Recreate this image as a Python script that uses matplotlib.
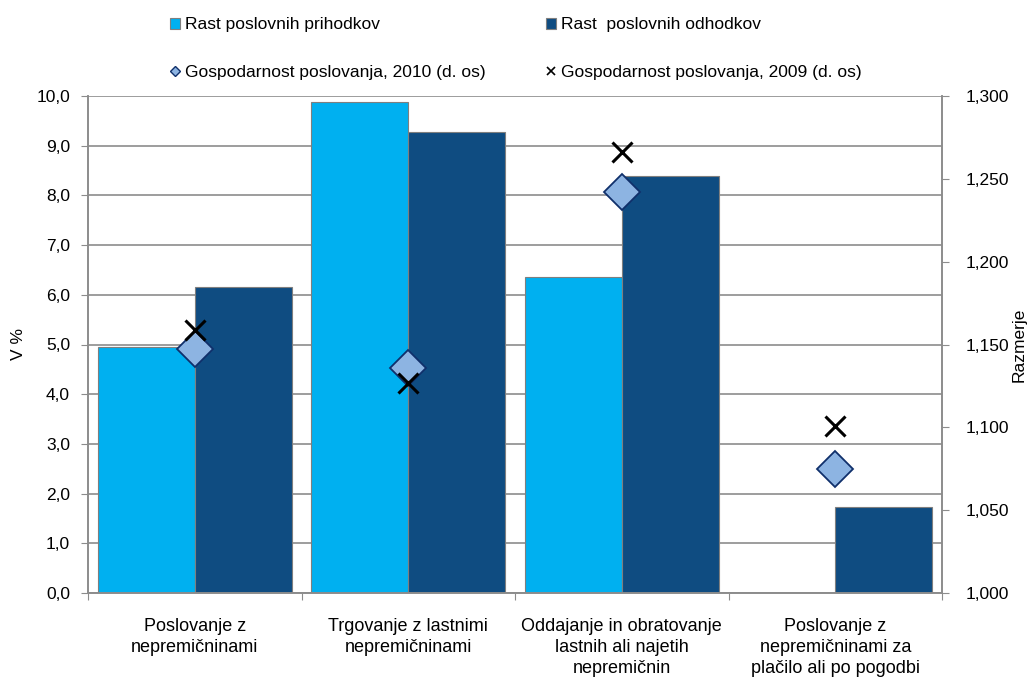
import matplotlib
matplotlib.use("Agg")
import matplotlib.pyplot as plt
from matplotlib.lines import Line2D
from matplotlib.patches import Patch
import numpy as np

plt.rcParams['font.family'] = ['Liberation Sans', 'DejaVu Sans']

categories = ["Poslovanje z\nnepremičninami",
              "Trgovanje z lastnimi\nnepremičninami",
              "Oddajanje in obratovanje\nlastnih ali najetih\nnepremičnin",
              "Poslovanje z\nnepremičninami za\nplačilo ali po pogodbi"]
rast_prihodkov = [4.95, 9.87, 6.35, 0.0]
rast_odhodkov = [6.15, 9.27, 8.39, 1.73]
gosp_2010 = [1.147, 1.136, 1.242, 1.075]
gosp_2009 = [1.159, 1.127, 1.266, 1.101]
left_ticks = [0, 1, 2, 3, 4, 5, 6, 7, 8, 9, 10]
right_ticks = [1.000, 1.050, 1.100, 1.150, 1.200, 1.250, 1.300]

c_light = '#00B0F0'
c_dark = '#0F4C81'
c_diam = '#8DB4E2'
c_grid = '#8C8C8C'

fig = plt.figure(figsize=(10.36, 6.79), dpi=100)
ax = fig.add_axes([88/1036, 1-593/679, (942-88)/1036, (593-96)/679])
ax2 = ax.twinx()

x = np.arange(len(categories))
w = 0.455
ax.bar(x - w/2, rast_prihodkov, w, color=c_light, edgecolor='#7F7F7F', linewidth=0.8, zorder=2)
ax.bar(x + w/2, rast_odhodkov, w, color=c_dark, edgecolor='#7F7F7F', linewidth=0.8, zorder=2)
ax.set_ylim(0, 10)
ax.set_xlim(-0.5, len(categories) - 0.5)
ax.set_yticks(left_ticks)
ax.set_yticklabels([f"{v:.1f}".replace('.', ',') for v in left_ticks], fontsize=12.5)
ax.yaxis.grid(True, color=c_grid, linewidth=1.2)
ax.set_axisbelow(True)
ax.set_ylabel("V %", fontsize=12.5, labelpad=7)

ax.set_xticks(np.arange(len(categories) + 1) - 0.5, minor=False)
ax.set_xticklabels([])
ax.set_xticks(x, minor=True)
ax.set_xticklabels(categories, minor=True, fontsize=13, linespacing=1.3)
ax.tick_params(axis='x', which='minor', length=0, pad=18)
ax.tick_params(axis='x', which='major', length=5, color=c_grid)
ax.tick_params(axis='y', length=5, color=c_grid, pad=8)

ax2.plot(x, gosp_2010, linestyle='none', marker='D', markersize=18,
         markerfacecolor=c_diam, markeredgecolor='#10306B', markeredgewidth=1.3, zorder=5)
ax2.plot(x, gosp_2009, linestyle='none', marker='x', markersize=15,
         markeredgecolor='black', markeredgewidth=2.2, zorder=6)
ax2.set_ylim(1.0, 1.3)
ax2.set_yticks(right_ticks)
ax2.set_yticklabels([f"{v:.3f}".replace('.', ',') for v in right_ticks], fontsize=12.5)
ax2.tick_params(axis='y', length=5, color=c_grid, pad=12)
ax2.set_ylabel("Razmerje", fontsize=12.5, labelpad=2)

for a in (ax, ax2):
    a.spines['top'].set_visible(False)
    for s in ('left', 'right', 'bottom'):
        a.spines[s].set_color(c_grid)
        a.spines[s].set_linewidth(1.2)

handles = [Patch(facecolor=c_light, edgecolor='#7F7F7F', linewidth=0.8),
           Patch(facecolor=c_dark, edgecolor='#7F7F7F', linewidth=0.8),
           Line2D([], [], linestyle='none', marker='D', markersize=5, markerfacecolor=c_diam,
                  markeredgecolor='#10306B', markeredgewidth=1),
           Line2D([], [], linestyle='none', marker='x', markersize=5.5, markeredgecolor='black',
                  markeredgewidth=1.2)]
labels = ["Rast poslovnih prihodkov", "Rast  poslovnih odhodkov",
          "Gospodarnost poslovanja, 2010 (d. os)", "Gospodarnost poslovanja, 2009 (d. os)"]
positions = [(170, 25), (546, 25), (170, 72), (546, 72)]
for h, l, (px, py) in zip(handles, labels, positions):
    fig.legend([h], [l], loc='center left', bbox_to_anchor=(px/1036, 1-py/679),
               frameon=False, fontsize=12.5, handlelength=0.6, handleheight=0.6,
               handletextpad=0.25, borderaxespad=0, borderpad=0)

fig.savefig("out.png", dpi=100)
